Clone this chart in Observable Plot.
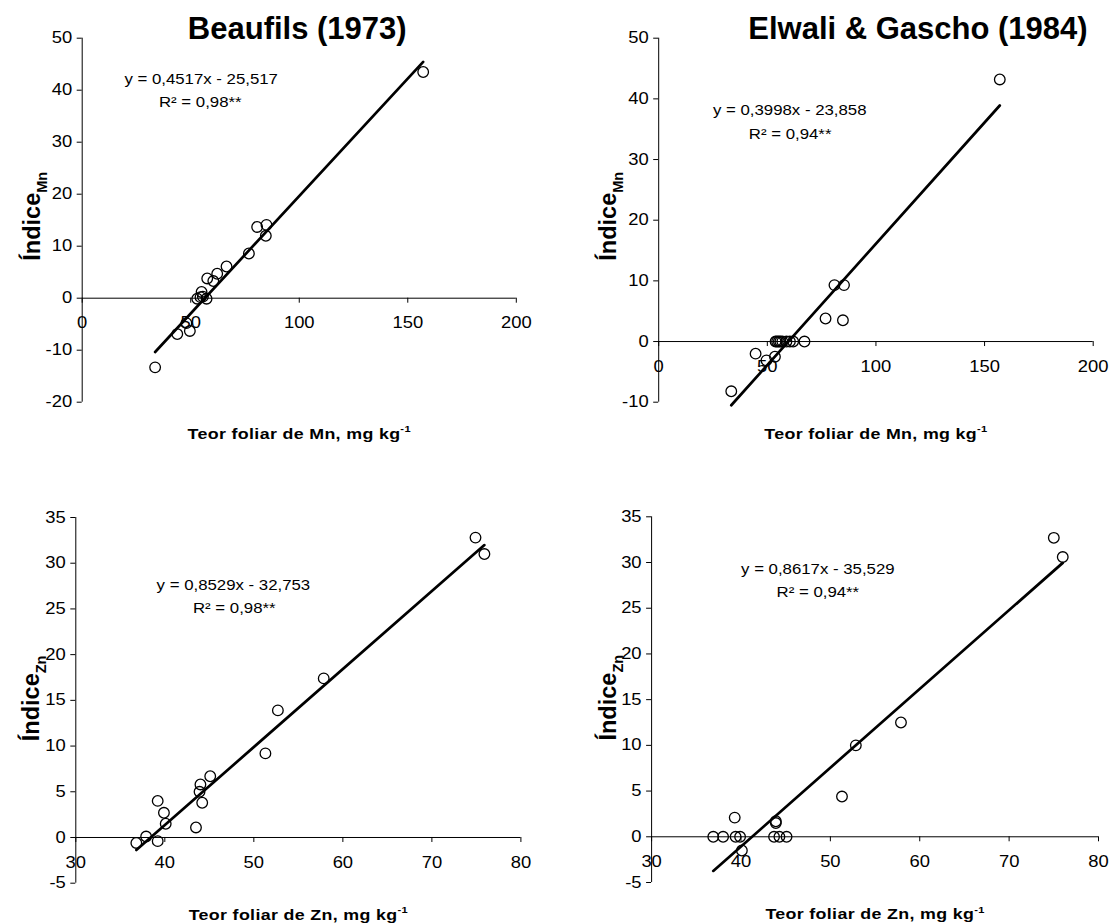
<!DOCTYPE html>
<html><head><meta charset="utf-8">
<script src="https://cdn.jsdelivr.net/npm/d3@7"></script>
<script src="https://cdn.jsdelivr.net/npm/@observablehq/plot@0.6"></script>
<style>
body{margin:0;background:#fff;}
#wrap{position:relative;width:1114px;height:924px;background:#fff;font-family:"Liberation Sans",Arial,sans-serif;}
.panel{position:absolute;}
</style></head><body><div id="wrap"></div>
<script>
// ---- Data ----
const titles = ["Beaufils (1973)", "Elwali & Gascho (1984)"];
const xLabelMn = "Teor foliar de Mn, mg kg^{-1}";
const xLabelZn = "Teor foliar de Zn, mg kg^{-1}";
const yLabelMn = "Índice_{Mn}";
const yLabelZn = "Índice_{Zn}";

const mnTicksX = [0, 50, 100, 150, 200];
const mnTicksYBeaufils = [-20, -10, 0, 10, 20, 30, 40, 50];
const mnTicksYElwali = [-10, 0, 10, 20, 30, 40, 50];
const znTicksX = [30, 40, 50, 60, 70, 80];
const znTicksY = [-5, 0, 5, 10, 15, 20, 25, 30, 35];

const mnTeorBeaufils   = [157.1, 33.6, 43.8, 48.0, 49.6, 53.0, 54.5, 55.0, 55.6, 57.3, 57.6, 60.4, 62.2, 66.5, 76.8, 80.6, 84.9, 84.6];
const mnIndiceBeaufils = [43.5, -13.3, -6.9, -4.8, -6.3, -0.1, 0.2, 1.2, 0.3, -0.1, 3.8, 3.3, 4.7, 6.1, 8.6, 13.7, 14.1, 12.0];

const mnTeorElwali   = [157.0, 33.4, 44.6, 49.6, 53.5, 53.8, 54.5, 55.3, 56.0, 56.9, 58.8, 60.4, 61.9, 67.1, 76.8, 84.8, 80.9, 85.3];
const mnIndiceElwali = [43.2, -8.2, -2.0, -3.1, -2.5, 0, 0, 0, 0, 0, 0, 0, 0, 0, 3.8, 3.5, 9.3, 9.3];

const znTeorBeaufils   = [74.9, 75.9, 57.85, 52.7, 51.3, 45.1, 44.0, 43.9, 44.2, 43.5, 39.2, 39.9, 40.1, 37.9, 36.8, 39.2];
const znIndiceBeaufils = [32.8, 31.0, 17.4, 13.9, 9.2, 6.7, 5.8, 5.0, 3.8, 1.1, 4.0, 2.7, 1.5, 0.1, -0.6, -0.4];

const znTeorElwali   = [75.0, 76.0, 57.9, 52.85, 51.3, 43.9, 43.9, 39.3, 40.1, 36.9, 38.0, 39.4, 39.9, 43.7, 44.3, 45.1];
const znIndiceElwali = [32.7, 30.6, 12.5, 10.0, 4.4, 1.5, 1.7, 2.1, -1.5, 0, 0, 0, 0, 0, 0, 0];

// regression equations as printed: slope, intercept
const slopes     = [0.4517, 0.3998, 0.8529, 0.8617];
const intercepts = [-25.517, -23.858, -32.753, -35.529];
const equations  = ["y = 0,4517x - 25,517", "y = 0,3998x - 23,858", "y = 0,8529x - 32,753", "y = 0,8617x - 35,529"];
const r2Labels   = ["R² = 0,98**", "R² = 0,94**", "R² = 0,98**", "R² = 0,94**"];
// annotation anchors in data units
const eqX  = [54.8, 60.3, 47.7, 48.6];
const eqY  = [42.1, 38.0, 27.6, 29.2];
const r2X  = [54.4, 60.5, 47.8, 48.6];
const r2Y  = [37.6, 34.2, 25.0, 26.7];

const FONT = '"Liberation Sans", Arial, sans-serif';
const TICK_FS = 16, EQ_FS = 14, XL_FS = 15.5, YL_FS = 23.5, TITLE_FS = 31;

function stretch(el, s) {
  const tr = el.getAttribute("transform");
  if (tr) el.setAttribute("transform", tr + ` scale(${s},1)`);
  else {
    const x = +el.getAttribute("x") || 0, y = +el.getAttribute("y") || 0;
    el.removeAttribute("x"); el.removeAttribute("y");
    el.setAttribute("transform", `translate(${x},${y}) scale(${s},1)`);
  }
}

function richify(svg) {
  d3.select(svg).selectAll("text").each(function () {
    const s = this.textContent;
    if (/^-?\d+$/.test(s)) { stretch(this, 1.15); return; }
    if (s.startsWith("y =") || s.startsWith("R²")) { stretch(this, 1.2); return; }
    if (s.startsWith("Teor")) { stretch(this, 1.15); this.setAttribute("letter-spacing", "0.3px"); }
    if (!/[_^]\{/.test(s)) return;
    const fs = parseFloat(getComputedStyle(this).fontSize) || 17;
    const t = d3.select(this);
    t.text(null);
    let off = 0;
    for (const p of s.split(/([_^]\{[^}]*\})/)) {
      if (!p) continue;
      const m = p.match(/^([_^])\{(.*)\}$/);
      if (m) {
        const target = (m[1] === "^" ? -0.42 : 0.3) * fs;
        t.append("tspan").attr("dy", target - off).attr("font-size", 0.62 * fs).text(m[2]);
        off = target;
      } else {
        const ts = t.append("tspan").text(p);
        if (off !== 0) ts.attr("dy", -off);
        off = 0;
      }
    }
  });
}

function panel(cfg) {
  const pts = cfg.xs.map((x, i) => ({x, y: cfg.ys[i]}));
  const [x0, x1] = d3.extent(cfg.xs);
  const k = cfg.idx;
  const line = [x0, x1].map(x => ({x, y: slopes[k] * x + intercepts[k]}));
  const marks = [
    Plot.ruleX([cfg.xDomain[0]], {stroke: "#000", strokeWidth: 1}),
    Plot.ruleY([0], {stroke: "#000", strokeWidth: 1}),
    Plot.ruleX(cfg.xTicks, {x: d => d, y1: 0, y2: 0, insetBottom: -5, stroke: "#000"}),
    Plot.text(cfg.xTicks, {x: d => d, y: 0, dy: 25, text: d => String(d), fontSize: TICK_FS, fill: "#000"}),
    Plot.axisY(cfg.yTicks, {tickSize: 5, tickPadding: 5, tickFormat: d => String(d), label: null, fontSize: TICK_FS, stroke: "#000", fill: "#000"}),
    Plot.line(line, {x: "x", y: "y", stroke: "#000", strokeWidth: 2.7}),
    Plot.dot(pts, {x: "x", y: "y", r: 5.3, stroke: "#000", strokeWidth: 1.3, fill: "none"}),
    Plot.text([equations[k]], {x: eqX[k], y: eqY[k], fontSize: EQ_FS, fill: "#000"}),
    Plot.text([r2Labels[k]], {x: r2X[k], y: r2Y[k], fontSize: EQ_FS, fill: "#000"}),
    Plot.text([cfg.xLabel], {frameAnchor: "bottom", lineAnchor: "middle", textAnchor: "middle", dy: 31.6, fontSize: XL_FS, fontWeight: "bold", fill: "#000"}),
    Plot.text([cfg.yLabel], {frameAnchor: "left", lineAnchor: "middle", textAnchor: "middle", dx: cfg.yLabelDx, dy: cfg.yLabelDy, rotate: -90, fontSize: YL_FS, fontWeight: "bold", fill: "#000"})
  ];
  if (cfg.title) marks.push(Plot.text([cfg.title], {frameAnchor: "top", lineAnchor: "middle", textAnchor: "middle", dx: cfg.titleDx, dy: -9.4, fontSize: TITLE_FS, fontWeight: "bold", fill: "#000"}));
  const svg = Plot.plot({
    width: 557, height: 462,
    marginLeft: cfg.m[0], marginRight: cfg.m[1], marginTop: cfg.m[2], marginBottom: cfg.m[3],
    x: {domain: cfg.xDomain, axis: null},
    y: {domain: cfg.yDomain},
    style: {fontFamily: FONT, fontSize: TICK_FS + "px", color: "#000", background: "transparent", overflow: "visible"},
    marks
  });
  const div = document.createElement("div");
  div.className = "panel";
  div.style.left = cfg.left + "px";
  div.style.top = cfg.top + "px";
  div.appendChild(svg);
  document.getElementById("wrap").appendChild(div);
  richify(svg);
}

panel({idx: 0, left: 0, top: 0, xs: mnTeorBeaufils, ys: mnIndiceBeaufils, xDomain: [0, 200], yDomain: [-20, 50],
  xTicks: mnTicksX, yTicks: mnTicksYBeaufils, m: [81.7, 41.2, 37.7, 60.3], title: titles[0], titleDx: -2,
  xLabel: xLabelMn, yLabel: yLabelMn, yLabelDx: -50, yLabelDy: -4});
panel({idx: 1, left: 557, top: 0, xs: mnTeorElwali, ys: mnIndiceElwali, xDomain: [0, 200], yDomain: [-10, 50],
  xTicks: mnTicksX, yTicks: mnTicksYElwali, m: [101.2, 21.3, 37.7, 60.3], title: titles[1], titleDx: 42,
  xLabel: xLabelMn, yLabel: yLabelMn, yLabelDx: -50, yLabelDy: -4});
panel({idx: 2, left: 0, top: 462, xs: znTeorBeaufils, ys: znIndiceBeaufils, xDomain: [30, 80], yDomain: [-5, 35],
  xTicks: znTicksX, yTicks: znTicksY, m: [75.3, 36.6, 55, 41.3],
  xLabel: xLabelZn, yLabel: yLabelZn, yLabelDx: -44, yLabelDy: -2});
panel({idx: 3, left: 557, top: 462, xs: znTeorElwali, ys: znIndiceElwali, xDomain: [30, 80], yDomain: [-5, 35],
  xTicks: znTicksX, yTicks: znTicksY, m: [94.1, 16, 54.3, 42],
  xLabel: xLabelZn, yLabel: yLabelZn, yLabelDx: -43, yLabelDy: -2});
</script></body></html>
